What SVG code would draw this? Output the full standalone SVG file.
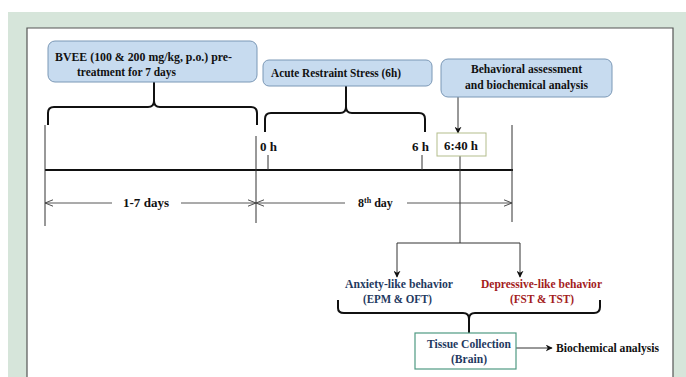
<svg xmlns="http://www.w3.org/2000/svg" width="686" height="377" viewBox="0 0 686 377">
<defs>
<style>
.t{font-family:"Liberation Serif","Times New Roman",serif;font-weight:bold;font-size:12px;fill:#111}
.box{fill:#c7dbef;stroke:#7b98b6;stroke-width:1}
.br{fill:none;stroke:#111;stroke-width:2;stroke-linejoin:round}
.ln{fill:none;stroke:#333;stroke-width:1}
.dim{fill:none;stroke:#444;stroke-width:0.9}
.navy{fill:#1f3a5f}
.red{fill:#a3201c}
</style>
<marker id="ah" viewBox="0 0 10 10" refX="9" refY="5" markerWidth="7" markerHeight="7" orient="auto" markerUnits="userSpaceOnUse">
<path d="M0,0 L10,5 L0,10 L3,5 z" fill="#111"/>
</marker>
<marker id="op" viewBox="0 0 10 10" refX="10" refY="5" markerWidth="8" markerHeight="8" orient="auto-start-reverse" markerUnits="userSpaceOnUse">
<path d="M0,1 L10,5 L0,9" fill="none" stroke="#444" stroke-width="1.2"/>
</marker>
</defs>
<rect width="686" height="377" fill="#fff"/>
<rect x="8" y="12" width="678" height="365" fill="#d6e5da"/>
<path d="M27,377 V28 H673 V377" fill="#fff" stroke="#555" stroke-width="1.2"/>

<g id="connectors">
<path class="br" d="M48,125 V113 Q48,107 54,107 H148 Q154,107 154,101 V82 M154,101 Q154,107 160,107 H251 Q257,107 257,113 V125"/>
<path class="br" d="M265,132 V119 Q265,113 271,113 H340 Q346,113 346,107 V86 M346,107 Q346,113 352,113 H419 Q425,113 425,119 V132"/>
<path class="br" d="M338,300 V308 Q338,313 344,313 H463 Q469,313 469,319 V333 M469,319 Q469,313 475,313 H594 Q600,313 600,307 V300"/>
<line x1="45" y1="170" x2="513" y2="170" stroke="#111" stroke-width="2"/>
<line class="ln" x1="45" y1="125" x2="45" y2="226"/>
<line class="ln" x1="256" y1="136" x2="256" y2="223"/>
<line class="ln" x1="268" y1="155" x2="268" y2="170"/>
<line class="ln" x1="422" y1="155" x2="422" y2="170"/>
<line class="ln" x1="512" y1="125" x2="512" y2="222"/>
<line class="ln" x1="458" y1="97" x2="458" y2="133" marker-end="url(#ah)"/>
<path class="ln" d="M460,156 V243"/>
<path class="ln" d="M397,243 H520"/>
<line class="ln" x1="397" y1="243" x2="397" y2="277" marker-end="url(#ah)"/>
<line class="ln" x1="520" y1="243" x2="520" y2="277" marker-end="url(#ah)"/>
<line class="ln" x1="516" y1="348" x2="552" y2="348" marker-end="url(#ah)"/>
<line class="dim" x1="112" y1="203" x2="45" y2="203" marker-end="url(#op)"/>
<line class="dim" x1="181" y1="203" x2="256" y2="203" marker-end="url(#op)"/>
<line class="dim" x1="345" y1="203" x2="256" y2="203" marker-end="url(#op)"/>
<line class="dim" x1="407" y1="203" x2="512" y2="203" marker-end="url(#op)"/>
</g>

<g id="bvee">
<rect class="box" x="48" y="41" width="209" height="41" rx="7"/>
<text class="t" x="55" y="61" textLength="177" lengthAdjust="spacingAndGlyphs">BVEE (100 &amp; 200 mg/kg, p.o.) pre-</text>
<text class="t" x="77" y="76" textLength="99" lengthAdjust="spacingAndGlyphs">treatment for 7 days</text>
</g>
<g id="acute">
<rect class="box" x="263" y="60" width="169" height="26" rx="6"/>
<text class="t" x="271" y="77" textLength="130" lengthAdjust="spacingAndGlyphs">Acute Restraint Stress (6h)</text>
</g>
<g id="behav">
<rect class="box" x="441" y="59" width="171" height="38" rx="7"/>
<text class="t" x="471" y="73" textLength="111" lengthAdjust="spacingAndGlyphs">Behavioral assessment</text>
<text class="t" x="465" y="89" textLength="123" lengthAdjust="spacingAndGlyphs">and biochemical analysis</text>
</g>
<g id="t0">
<text class="t" x="260" y="151" textLength="17" lengthAdjust="spacingAndGlyphs">0 h</text>
</g>
<g id="t6">
<text class="t" x="412" y="151" textLength="17" lengthAdjust="spacingAndGlyphs">6 h</text>
</g>
<g id="t640">
<rect x="437" y="133" width="49" height="23" fill="#fff" stroke="#b3bd8c" stroke-width="1"/>
<text class="t" x="444" y="150" textLength="34" lengthAdjust="spacingAndGlyphs">6:40 h</text>
</g>
<g id="days">
<text class="t" x="123" y="207" textLength="46" lengthAdjust="spacingAndGlyphs">1-7 days</text>
</g>
<g id="day8">
<text class="t" x="358" y="207">8<tspan font-size="8" dy="-4">th</tspan><tspan dy="4"> day</tspan></text>
</g>
<g id="anxiety">
<text class="t navy" x="345" y="288" textLength="108" lengthAdjust="spacingAndGlyphs">Anxiety-like behavior</text>
<text class="t navy" x="363" y="303" textLength="69" lengthAdjust="spacingAndGlyphs">(EPM &amp; OFT)</text>
</g>
<g id="depressive">
<text class="t red" x="481" y="288" textLength="121" lengthAdjust="spacingAndGlyphs">Depressive-like behavior</text>
<text class="t red" x="510" y="303" textLength="64" lengthAdjust="spacingAndGlyphs">(FST &amp; TST)</text>
</g>
<g id="tissue">
<rect x="415" y="333" width="101" height="36" fill="#fff" stroke="#4f9a82" stroke-width="1.2"/>
<text class="t navy" x="427" y="348" textLength="84" lengthAdjust="spacingAndGlyphs">Tissue Collection</text>
<text class="t navy" x="451" y="363" textLength="36" lengthAdjust="spacingAndGlyphs">(Brain)</text>
</g>
<g id="biochem">
<text class="t" x="556" y="352" textLength="103" lengthAdjust="spacingAndGlyphs">Biochemical analysis</text>
</g>
</svg>
